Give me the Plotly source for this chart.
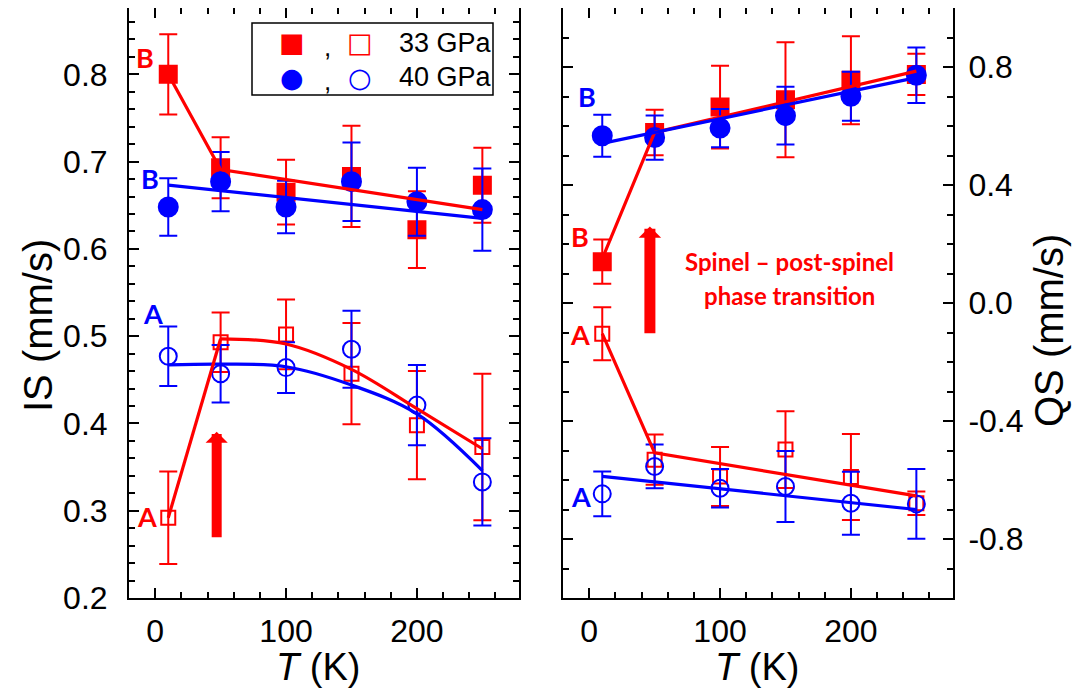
import plotly.graph_objects as go

# ---------------- data ----------------
T = [10, 50, 100, 150, 200, 250]

# Isomer shift (mm/s)
IS_B_33 = [0.800, 0.693, 0.665, 0.683, 0.622, 0.673]
IS_B_33_err = [0.046, 0.035, 0.037, 0.058, 0.044, 0.043]
IS_B_40 = [0.648, 0.677, 0.648, 0.677, 0.654, 0.645]
IS_B_40_err = [0.033, 0.034, 0.030, 0.045, 0.039, 0.047]
IS_A_33 = [0.292, 0.493, 0.502, 0.457, 0.398, 0.373]
IS_A_33_err = [0.053, 0.034, 0.040, 0.058, 0.062, 0.084]
IS_A_40 = [0.477, 0.457, 0.464, 0.485, 0.421, 0.333]
IS_A_40_err = [0.034, 0.033, 0.029, 0.044, 0.046, 0.050]

# IS guide lines
IS_B_33_fit_T = [10, 50, 250]
IS_B_33_fit = [0.800, 0.691, 0.645]
IS_B_40_fit_T = [10, 250]
IS_B_40_fit = [0.673, 0.635]
IS_A_33_fit_T = [10, 50, 100, 150, 200, 250]
IS_A_33_fit = [0.292, 0.497, 0.491, 0.462, 0.417, 0.371]
IS_A_40_fit_T = [10, 50, 100, 150, 200, 250]
IS_A_40_fit = [0.467, 0.468, 0.465, 0.444, 0.411, 0.346]

# Quadrupole splitting (mm/s)
QS_B_33 = [0.140, 0.578, 0.664, 0.689, 0.755, 0.775]
QS_B_33_err = [0.075, 0.077, 0.140, 0.195, 0.149, 0.070]
QS_B_40 = [0.567, 0.561, 0.593, 0.635, 0.701, 0.772]
QS_B_40_err = [0.071, 0.075, 0.065, 0.098, 0.083, 0.094]
QS_A_33 = [-0.104, -0.531, -0.588, -0.497, -0.590, -0.679]
QS_A_33_err = [0.090, 0.085, 0.100, 0.130, 0.146, 0.040]
QS_A_40 = [-0.647, -0.554, -0.628, -0.622, -0.679, -0.681]
QS_A_40_err = [0.076, 0.074, 0.065, 0.120, 0.107, 0.118]

# QS guide lines
QS_B_33_fit_T = [10, 50, 250]
QS_B_33_fit = [0.150, 0.578, 0.786]
QS_B_40_fit_T = [10, 250]
QS_B_40_fit = [0.541, 0.764]
QS_A_33_fit_T = [10, 50, 250]
QS_A_33_fit = [-0.104, -0.508, -0.654]
QS_A_40_fit_T = [10, 250]
QS_A_40_fit = [-0.588, -0.700]

# tick labels
X_TICKS = [0, 100, 200]
IS_TICKS = [0.2, 0.3, 0.4, 0.5, 0.6, 0.7, 0.8]
QS_TICKS = [-0.8, -0.4, 0.0, 0.4, 0.8]
QS_TICKTEXT = ["-0.8", "-0.4", "0.0", "0.4", "0.8"]

# ---------------- style ----------------
RED = "#ff0000"
BLUE = "#0000ff"
OFF = 8                      # page body margin
W, H = 1088 - OFF, 695 - OFF
FONT = "Arial, Liberation Sans, sans-serif"
BOLD = "Lato, Open Sans, sans-serif"


def px(x):
    return (x - OFF) / W


def py(y):
    return 1 - (y - OFF) / H


fig = go.Figure()


def pts(x, y, err, color, symbol, size, xa, ya, lw=2):
    fig.add_trace(go.Scatter(
        x=x, y=y, mode="markers", xaxis=xa, yaxis=ya, showlegend=False,
        marker=dict(symbol=symbol, size=size, color=color,
                    line=dict(color=color, width=lw)),
        error_y=dict(type="data", array=err, visible=True, color=color,
                     thickness=2, width=9),
    ))


def line(x, y, color, xa, ya, shape="linear"):
    fig.add_trace(go.Scatter(
        x=x, y=y, mode="lines", xaxis=xa, yaxis=ya, showlegend=False,
        line=dict(color=color, width=3.2, shape=shape, smoothing=1.0),
    ))


# ---- left panel (IS)
pts(T, IS_B_33, IS_B_33_err, RED, "square", 17, "x", "y")
pts(T, IS_A_33, IS_A_33_err, RED, "square-open", 14, "x", "y")
pts(T, IS_B_40, IS_B_40_err, BLUE, "circle", 19, "x", "y")
pts(T, IS_A_40, IS_A_40_err, BLUE, "circle-open", 17, "x", "y")
line(IS_B_33_fit_T, IS_B_33_fit, RED, "x", "y")
line(IS_B_40_fit_T, IS_B_40_fit, BLUE, "x", "y")
line(IS_A_40_fit_T, IS_A_40_fit, BLUE, "x", "y", "spline")
line(IS_A_33_fit_T[:2], IS_A_33_fit[:2], RED, "x", "y")
line(IS_A_33_fit_T[1:], IS_A_33_fit[1:], RED, "x", "y", "spline")

# ---- right panel (QS)
pts(T, QS_B_33, QS_B_33_err, RED, "square", 17, "x2", "y2")
pts(T, QS_A_33, QS_A_33_err, RED, "square-open", 14, "x2", "y2")
pts(T, QS_B_40, QS_B_40_err, BLUE, "circle", 19, "x2", "y2")
pts(T, QS_A_40, QS_A_40_err, BLUE, "circle-open", 17, "x2", "y2")
line(QS_B_33_fit_T, QS_B_33_fit, RED, "x2", "y2")
line(QS_B_40_fit_T, QS_B_40_fit, BLUE, "x2", "y2")
line(QS_A_33_fit_T, QS_A_33_fit, RED, "x2", "y2")
line(QS_A_40_fit_T, QS_A_40_fit, BLUE, "x2", "y2")

axis_common = dict(
    showline=True, linecolor="black", linewidth=2, mirror="ticks",
    ticks="inside", ticklen=10, tickwidth=2, tickcolor="black",
    showgrid=False, zeroline=False, automargin=False,
    tickfont=dict(family=FONT, size=32, color="black"),
)


def minor(d, t0):
    return dict(ticks="inside", ticklen=6, tickwidth=1.5, tickcolor="black",
                dtick=d, tick0=t0)


y_dom = [py(598), py(8)]
fig.update_layout(
    template="none",
    width=W, height=H, margin=dict(l=0, r=0, t=0, b=0, autoexpand=False),
    paper_bgcolor="white", plot_bgcolor="white",
    xaxis=dict(domain=[px(129), px(519)], range=[-20, 278], anchor="y",
               tickvals=X_TICKS, minor=minor(20, 0), ticklabelstandoff=4,
               **axis_common),
    yaxis=dict(domain=y_dom, range=[0.2, 0.876], anchor="x",
               tickvals=IS_TICKS, tickformat=".1f", minor=minor(0.02, 0.2),
               ticklabelstandoff=13, **axis_common),
    xaxis2=dict(domain=[px(563), px(953)], range=[-20, 278], anchor="y2",
                tickvals=X_TICKS, minor=minor(20, 0), ticklabelstandoff=4,
                **axis_common),
    yaxis2=dict(domain=y_dom, range=[-1.0, 1.0], anchor="x2", side="right",
                tickvals=QS_TICKS, ticktext=QS_TICKTEXT, minor=minor(0.1, 0),
                ticklabelstandoff=7, **axis_common),
)

ann = []


def paper_text(text, x, y, size, color="black", family=FONT, angle=0, xanchor="center"):
    ann.append(dict(text=text, x=px(x), y=py(y), xref="paper", yref="paper",
                    xanchor=xanchor, yanchor="middle", textangle=angle,
                    showarrow=False, font=dict(family=family, size=size, color=color)))


# axis titles
paper_text("IS (mm/s)", 38, 326, 40, angle=-90)
paper_text("QS (mm/s)", 1049, 331, 40, angle=-90)
paper_text("<i>T</i> (K)", 318, 667, 38)
paper_text("<i>T</i> (K)", 757, 667, 38)

# site labels
labels = [
    ("B", -7.8, 0.819, RED, "x", "y"),
    ("B", -4.0, 0.681, BLUE, "x", "y"),
    ("A", -1.5, 0.526, BLUE, "x", "y"),
    ("A", -6.5, 0.293, RED, "x", "y"),
    ("B", -1.3, 0.699, BLUE, "x2", "y2"),
    ("B", -7.1, 0.227, RED, "x2", "y2"),
    ("A", -7.1, -0.108, RED, "x2", "y2"),
    ("A", -6.3, -0.657, BLUE, "x2", "y2"),
]
for t, xx, yy, c, xr, yr in labels:
    ann.append(dict(text="<b>%s</b>" % t, x=xx, y=yy, xref=xr, yref=yr, showarrow=False,
                    xanchor="center", yanchor="middle",
                    font=dict(family=BOLD, size=27, color=c)))

# annotation text in right panel
for txt, yy in (("<b>Spinel \u2013 post-spinel</b>", 0.142), ("<b>phase transition</b>", 0.027)):
    ann.append(dict(text=txt, x=153, y=yy, xref="x2", yref="y2", showarrow=False,
                    xanchor="center", yanchor="middle",
                    font=dict(family=BOLD, size=24, color=RED)))

# arrows
ann.append(dict(text="", x=47, y=0.3905, ax=47, ay=0.268, xref="x", yref="y",
                axref="x", ayref="y", showarrow=True, arrowhead=1, arrowwidth=10,
                arrowsize=0.37, arrowcolor=RED, standoff=0, startstandoff=0))
ann.append(dict(text="", x=46.4, y=0.259, ax=46.4, ay=-0.108, xref="x2", yref="y2",
                axref="x2", ayref="y2", showarrow=True, arrowhead=1, arrowwidth=11,
                arrowsize=0.34, arrowcolor=RED, standoff=0, startstandoff=0))

# legend (drawn manually: two symbols per entry)
legend_rows = [
    (43, "\u25A0", "\u25A1", RED, "33 GPa"),
    (77, "\u25CF", "\u25CB", BLUE, "40 GPa"),
]
for yy, g1, g2, c, lab in legend_rows:
    paper_text(g1, 292, yy, 27, c, "DejaVu Sans")
    paper_text(",", 327, yy + 4, 26)
    paper_text(g2, 360, yy, 27, c, "DejaVu Sans")
    paper_text(lab, 397, yy, 27, xanchor="left")

fig.update_layout(annotations=ann)
fig.add_shape(type="rect", xref="paper", yref="paper",
              x0=px(252), x1=px(493), y0=py(95), y1=py(23),
              line=dict(color="black", width=1.5), fillcolor="rgba(0,0,0,0)")

fig.write_html("out.html")
